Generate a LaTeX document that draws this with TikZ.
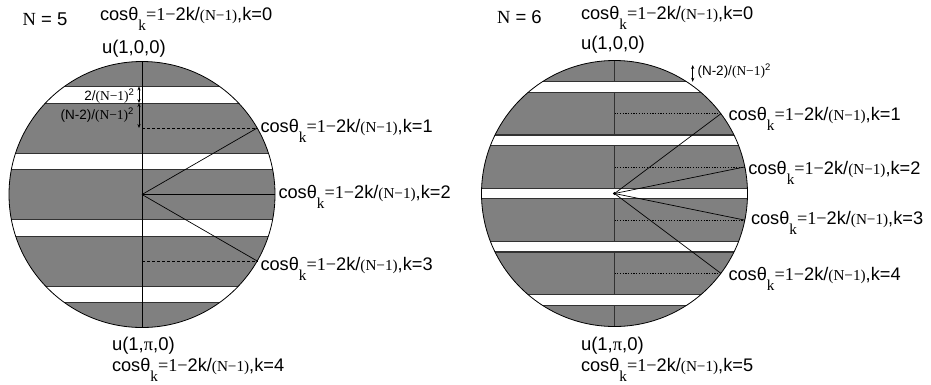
\documentclass[tikz,border=0pt]{standalone}
\usepackage{fontspec}
\setmainfont{Liberation Sans}
\newfontfamily\tms{Liberation Serif}
\usetikzlibrary{arrows.meta}
\definecolor{bandgray}{RGB}{128,128,128}
\definecolor{edgegray}{RGB}{50,50,50}
\newcommand\fmain{\fontsize{18.5}{20}\selectfont}
\newcommand\fcos{\fontsize{18.2}{20}\selectfont}
\newcommand\fsub{\fontsize{15.2}{16}\selectfont}
\newcommand\fanno{\fontsize{13.5}{15}\selectfont}
\newcommand\coslab[1]{{\fcos cosθ\raisebox{-10pt}{\fsub\tms k}{\tms =1−}2k/{\fsub\tms (N−1)},k=#1}}
\newcommand\sqtwo{\raisebox{5pt}{\fontsize{9.5}{10}\selectfont 2}}
\tikzset{
  lbl/.style={anchor=base west, inner sep=0pt, outer sep=0pt},
  anno/.style={inner sep=0pt, outer sep=0pt, font=\fanno},
  edge5/.style={draw=edgegray, line width=0.7pt},
  edge6/.style={draw=edgegray, line width=1.2pt},
  rim/.style={draw=black, line width=0.8pt},
  ray/.style={draw=black, line width=0.7pt},
  dim/.style={{Stealth[length=4pt,width=3.2pt]}-{Stealth[length=4pt,width=3.2pt]}, line width=0.8pt},
}
\begin{document}
\begin{tikzpicture}[x=1pt,y=-1pt]
\useasboundingbox (0,0) rectangle (931,384);

% ================= N = 5 =================
\coordinate (C5) at (142,194.5);
\coordinate (T5) at (142,61.5);
\coordinate (B5) at (142,327.5);
\begin{scope}
  \clip (C5) circle[radius=133pt];
  \fill[bandgray] (C5) circle[radius=133pt];
  \fill[white] (0,86.44) rectangle (300,103.06);
  \fill[white] (0,152.94) rectangle (300,169.56);
  \fill[white] (0,219.44) rectangle (300,236.06);
  \fill[white] (0,285.94) rectangle (300,302.56);
  \foreach \yy in {86.44,103.06,152.94,169.56,219.44,236.06,285.94,302.56}
    \draw[edge5] (0,\yy) -- (300,\yy);
\end{scope}
\draw[rim] (C5) circle[radius=133pt];
\draw[ray] (T5) -- (B5);
\coordinate (D51) at (142,128);
\coordinate (P51) at (257.2,128);
\coordinate (P52) at (275,194.5);
\coordinate (D53) at (142,261);
\coordinate (P53) at (257.2,261);
\draw[ray, dash pattern=on 3pt off 2pt] (D51) -- (P51);
\draw[ray, dash pattern=on 3pt off 2pt] (D53) -- (P53);
\draw[ray] (C5) -- (P51);
\draw[ray] (C5) -- (P52);
\draw[ray] (C5) -- (P53);
% dimension arrows
\coordinate (A1) at (139,86.44);
\coordinate (A2) at (139,103.06);
\coordinate (A3) at (139,128);
\draw[dim] (A1) -- (A2);
\draw[dim] (A2) -- (A3);
\node[anno, anchor=base east] (g5) at (134,100.5) {2/{\tms(N−1)}\sqtwo};
\node[anno, anchor=base east] (h5) at (133.5,119.5) {(N-2)/{\tms(N−1)}\sqtwo};
% labels
\node[lbl] (n5) at (22.7,25) {\fmain{\tms N} = 5};
\node[lbl] (t5) at (100,20.7) {\coslab{0}};
\node[lbl] (u5) at (102,53.3) {\fmain u(1,0,0)};
\node[lbl] (k51) at (260.5,132) {\coslab{1}};
\node[lbl] (k52) at (278.5,198.3) {\coslab{2}};
\node[lbl] (k53) at (260.5,270.7) {\coslab{3}};
\node[lbl] (b5) at (112,350) {\fmain u(1,{\tms π},0)};
\node[lbl] (k54) at (112,371.7) {\coslab{4}};

% ================= N = 6 =================
\coordinate (C6) at (614.5,193.5);
\coordinate (T6) at (614.5,60.5);
\coordinate (B6) at (614.5,326.5);
\begin{scope}
  \clip (C6) circle[radius=133pt];
  \fill[bandgray] (C6) circle[radius=133pt];
  \draw[draw=edgegray, line width=1.5pt] (T6) -- (B6);
  \fill[white] (470,81.78) rectangle (760,92.42);
  \fill[white] (470,134.98) rectangle (760,145.62);
  \fill[white] (470,188.18) rectangle (760,198.82);
  \fill[white] (470,241.38) rectangle (760,252.02);
  \fill[white] (470,294.58) rectangle (760,305.22);
  \foreach \yy in {81.78,92.42,134.98,145.62,188.18,198.82,241.38,252.02,294.58,305.22}
    \draw[edge6] (470,\yy) -- (760,\yy);
\end{scope}
\draw[rim] (C6) circle[radius=133pt];
\coordinate (D61) at (614.5,113.7);
\coordinate (P61) at (720.9,113.7);
\coordinate (D62) at (614.5,166.9);
\coordinate (P62) at (744.8,166.9);
\coordinate (D63) at (614.5,220.1);
\coordinate (P63) at (744.8,220.1);
\coordinate (D64) at (614.5,273.3);
\coordinate (P64) at (720.9,273.3);
\foreach \i in {1,2,3,4}{
  \draw[ray, dash pattern=on 1.2pt off 1.5pt] (D6\i) -- (P6\i);
  \draw[ray] (C6) -- (P6\i);
}
\fill (C6) circle[radius=1.6pt];
\coordinate (E1) at (692.7,65);
\coordinate (E2) at (692.7,81.78);
\draw[dim] (E1) -- (E2);
\node[anno, anchor=base west] (g6) at (697.5,75) {(N-2)/{\tms(N−1)}\sqtwo};
% labels
\node[lbl] (n6) at (497,23.3) {\fmain{\tms N} = 6};
\node[lbl] (t6) at (581,19) {\coslab{0}};
\node[lbl] (u6) at (581,49.3) {\fmain u(1,0,0)};
\node[lbl] (k61) at (728.5,120.7) {\coslab{1}};
\node[lbl] (k62) at (748.3,174) {\coslab{2}};
\node[lbl] (k63) at (751,224) {\coslab{3}};
\node[lbl] (k64) at (728.5,280) {\coslab{4}};
\node[lbl] (b6) at (581,350) {\fmain u(1,{\tms π},0)};
\node[lbl] (k65) at (581,371.7) {\coslab{5}};
\end{tikzpicture}
\end{document}
